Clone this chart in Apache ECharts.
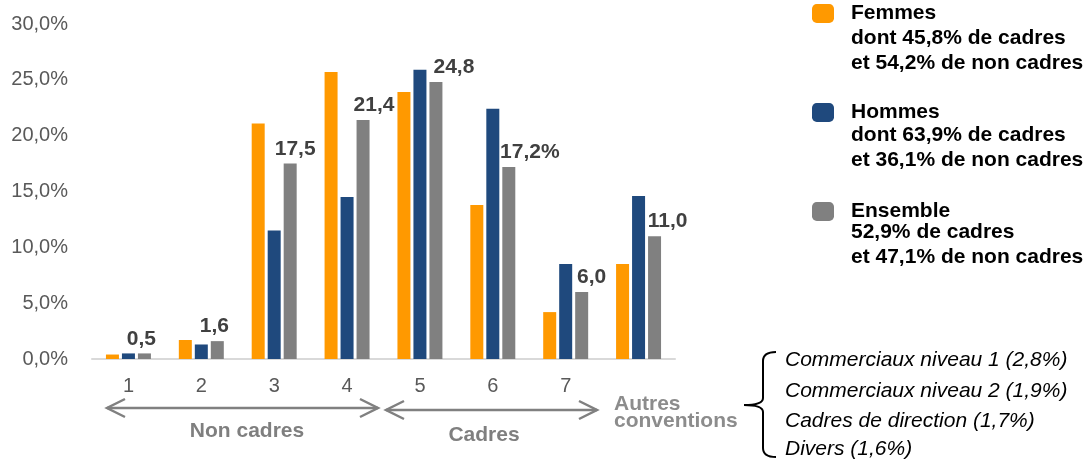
<!DOCTYPE html>
<html>
<head>
<meta charset="utf-8">
<script src="https://cdn.jsdelivr.net/npm/echarts@6/dist/echarts.min.js"></script>
<style>
html,body{margin:0;padding:0;background:#fff;}
#chart{width:1089px;height:459px;}
</style>
</head>
<body>
<div id="chart"></div>
<script>
// ---- data ----
const categories = ['1', '2', '3', '4', '5', '6', '7', 'Autres conventions'];
const femmes   = [0.4, 1.7, 21.1, 25.7, 23.9, 13.8, 4.2, 8.5];
const hommes   = [0.5, 1.3, 11.5, 14.5, 25.9, 22.4, 8.5, 14.6];
const ensemble = [0.5, 1.6, 17.5, 21.4, 24.8, 17.2, 6.0, 11.0];
const yTicks = [0, 5, 10, 15, 20, 25, 30];
const seriesNames = ['Femmes', 'Hommes', 'Ensemble'];
const legendDetails = [
  ['dont 45,8% de cadres', 'et 54,2% de non cadres'],
  ['dont 63,9% de cadres', 'et 36,1% de non cadres'],
  ['52,9% de cadres', 'et 47,1% de non cadres']
];
const groupLabels = ['Non cadres', 'Cadres'];
const otherConventions = [
  'Commerciaux niveau 1 (2,8%)',
  'Commerciaux niveau 2 (1,9%)',
  'Cadres de direction (1,7%)',
  'Divers (1,6%)'
];

// ---- styling ----
const FONT = "'Liberation Sans', Arial, sans-serif";
const colors = ['#FF9900', '#1F497D', '#808080'];
const labelNudge = [-3, -3, 5, 11, 18, 21, 10, 13];
const fmt = v => v.toFixed(1).replace('.', ',');

const chart = echarts.init(document.getElementById('chart'), null, {renderer: 'canvas'});

function barSeries(name, data, color, withLabel) {
  const s = {
    name: name,
    type: 'bar',
    barWidth: 13,
    barGap: '23%',
    itemStyle: {color: color},
    data: data.map((v, i) => {
      const d = {value: v};
      if (withLabel) d.label = {offset: [labelNudge[i], 0]};
      return d;
    })
  };
  if (withLabel) {
    s.label = {
      show: true,
      position: 'top',
      distance: 4,
      fontFamily: FONT,
      fontWeight: 'bold',
      fontSize: 21,
      color: '#404040',
      formatter: p => fmt(p.value) + (p.dataIndex === 5 ? '%' : '')
    };
  }
  return s;
}

const graphics = [];
function txt(x, y, text, st) {
  graphics.push({
    type: 'text', x: x, y: y, silent: true,
    style: Object.assign({text: text, fontFamily: FONT, fontSize: 21, fill: '#000',
                          align: 'left', verticalAlign: 'middle'}, st || {})
  });
}
function seg(points, color, w) {
  graphics.push({
    type: 'polyline', silent: true, shape: {points: points},
    style: {stroke: color, lineWidth: w, fill: null}
  });
}
// legend detail lines
const legendTop = [13, 110, 207];
legendDetails.forEach((lines, k) => {
  lines.forEach((t, j) => txt(851, legendTop[k] + 25 * (j + 1), t, {fontWeight: 'bold'}));
});
// arrows
function arrow(x1, x2, y) {
  seg([[x1, y], [x2, y]], '#808080', 2.5);
  seg([[x1 + 18, y - 9], [x1, y], [x1 + 18, y + 9]], '#808080', 2.5);
  seg([[x2 - 18, y - 9], [x2, y], [x2 - 18, y + 9]], '#808080', 2.5);
}
arrow(107, 378, 408);
arrow(386, 597, 410);
txt(247, 431, groupLabels[0], {fontWeight: 'bold', fill: '#7f7f7f', align: 'center'});
txt(484, 435, groupLabels[1], {fontWeight: 'bold', fill: '#7f7f7f', align: 'center'});
txt(614, 404, 'Autres', {fontWeight: 'bold', fill: '#8c8c8c'});
txt(614, 421, 'conventions', {fontWeight: 'bold', fill: '#8c8c8c'});
// brace
function curve(x1, y1, cx, cy, x2, y2) {
  graphics.push({
    type: 'bezierCurve', silent: true,
    shape: {x1: x1, y1: y1, cpx1: cx, cpy1: cy, x2: x2, y2: y2},
    style: {stroke: '#000', lineWidth: 2, fill: null}
  });
}
curve(776, 352, 763, 352, 763, 361);
seg([[763, 361], [763, 398]], '#000', 2);
curve(763, 398, 763, 405, 744, 405);
curve(744, 405, 763, 405, 763, 412);
seg([[763, 412], [763, 448]], '#000', 2);
curve(763, 448, 763, 457, 776, 457);
const convY = [360, 391, 421, 449];
otherConventions.forEach((t, i) => txt(785, convY[i], t, {fontStyle: 'italic'}));

const option = {
  animation: false,
  backgroundColor: '#fff',
  grid: {left: 92, right: 414, top: 24, bottom: 100, containLabel: false},
  legend: {
    orient: 'vertical',
    left: 812, top: 3,
    padding: 0,
    itemWidth: 22, itemHeight: 19, itemGap: 78,
    icon: 'roundRect',
    data: seriesNames,
    textStyle: {fontFamily: FONT, fontWeight: 'bold', fontSize: 21, color: '#000', padding: [2, 0, 0, 12]}
  },
  xAxis: {
    type: 'category',
    data: categories,
    axisLine: {lineStyle: {color: '#d9d9d9', width: 2}},
    axisTick: {show: false},
    axisLabel: {
      margin: 17, fontFamily: FONT, fontSize: 20, color: '#595959',
      formatter: v => (v.length > 2 ? '' : v)
    }
  },
  yAxis: {
    type: 'value',
    min: yTicks[0], max: yTicks[yTicks.length - 1], interval: yTicks[1] - yTicks[0],
    axisLine: {show: false},
    axisTick: {show: false},
    splitLine: {show: false},
    axisLabel: {margin: 24, fontFamily: FONT, fontSize: 20, color: '#595959',
                formatter: v => fmt(v) + '%'}
  },
  series: [
    barSeries(seriesNames[0], femmes, colors[0], false),
    barSeries(seriesNames[1], hommes, colors[1], false),
    barSeries(seriesNames[2], ensemble, colors[2], true)
  ],
  graphic: graphics
};
chart.setOption(option);
</script>
</body>
</html>
